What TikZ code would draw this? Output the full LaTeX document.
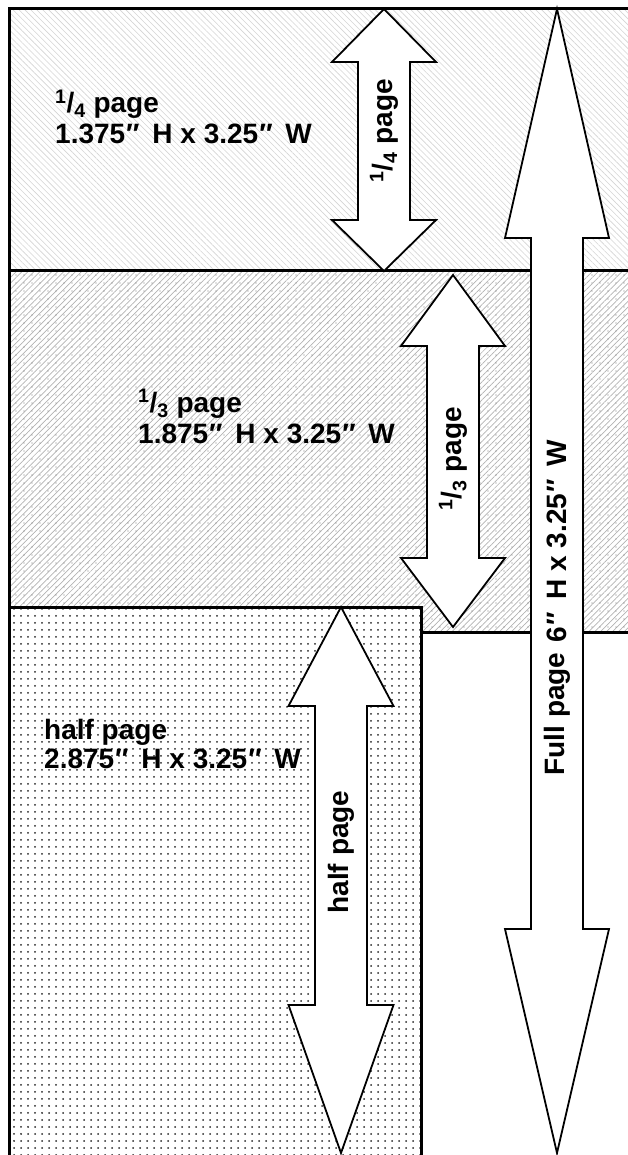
\documentclass[tikz,border=0pt]{standalone}
\usepackage{fontspec}
\setmainfont{Liberation Sans}
\usetikzlibrary{patterns.meta}
\newcommand\dblarrow[7]{% cx, top, bottom, head half width, shaft half width, top head length, bottom head length
  \draw[arrowshape] (#1,#2) -- ({#1+#4},{#2+#6}) -- ({#1+#5},{#2+#6}) -- ({#1+#5},{#3-#7}) -- ({#1+#4},{#3-#7})
    -- (#1,#3) -- ({#1-#4},{#3-#7}) -- ({#1-#5},{#3-#7}) -- ({#1-#5},{#2+#6}) -- ({#1-#4},{#2+#6}) -- cycle;}
\newcommand\dq{\kern1pt″\kern5pt}
\begin{document}
\begin{tikzpicture}[x=1pt,y=-1pt,
  border/.style={draw=black,line width=3pt},
  arrowshape/.style={draw=black,fill=white,line width=1.8pt,line join=miter},
  lbl/.style={font=\fontsize{28}{33}\selectfont\bfseries,inner sep=0pt,anchor=base west},
  vlbl/.style={font=\fontsize{28}{33}\selectfont\bfseries,inner sep=0pt,rotate=90},
  quarterfill/.style={pattern={Lines[angle=-45,distance=4.2pt,line width=0.6pt]},pattern color=black!17},
  thirdfill/.style={pattern={Lines[angle=45,distance=4.2pt,line width=0.7pt]},pattern color=black!30},
  thirddots/.style={pattern={Dots[distance=8pt,radius=0.6pt]},pattern color=black!50},
  halffill/.style={pattern={Dots[distance=7pt,radius=1pt]},pattern color=black!85}
]
\useasboundingbox (0,0) rectangle (628,1155);
\begin{scope}
\clip (0,0) rectangle (628,1155);
% regions
\fill[quarterfill] (9,9) rectangle (640,271);
\fill[thirdfill] (9,271) -- (640,271) -- (640,632) -- (421,632) -- (421,607) -- (9,607) -- cycle;
\fill[thirddots] (9,271) -- (640,271) -- (640,632) -- (421,632) -- (421,607) -- (9,607) -- cycle;
\fill[halffill] (9,607) rectangle (421,1170);
% borders
\coordinate (tl) at (9,9);
\coordinate (tr) at (640,9);
\coordinate (bl) at (9,1170);
\coordinate (ml) at (9,271);
\coordinate (mr) at (640,271);
\coordinate (hl) at (9,607);
\coordinate (hr) at (421,607);
\coordinate (hb) at (421,1170);
\coordinate (sl) at (421,632);
\coordinate (sr) at (640,632);
\draw[border] (tr) -- (tl) -- (bl);
\draw[border] (ml) -- (mr);
\draw[border] (hl) -- (hr) -- (hb);
\draw[border] (sl) -- (sr);
% arrows
\dblarrow{384}{9}{271}{52}{26}{53}{51}
\dblarrow{453}{275}{627}{52}{26}{71}{69}
\dblarrow{341}{607}{1153}{52.5}{26}{99}{148}
\dblarrow{557}{9}{1153}{52}{26}{229}{224}
\end{scope}
% labels
\node[lbl] (qa) at (55,113) {\textsuperscript{1}/\textsubscript{4} page};
\node[lbl] (qb) at (55,144) {1.375\dq{} H x 3.25\dq{} W};
\node[lbl] (ta) at (138,412) {\textsuperscript{1}/\textsubscript{3} page};
\node[lbl] (tb) at (138,443) {1.875\dq{} H x 3.25\dq{} W};
\node[lbl] (ha) at (44,739) {half page};
\node[lbl] (hb2) at (44,768) {2.875\dq{} H x 3.25\dq{} W};
\node[vlbl] (qv) at (384,131) {\textsuperscript{1}/\textsubscript{4} page};
\node[vlbl] (tv) at (453,459) {\textsuperscript{1}/\textsubscript{3} page};
\node[vlbl] (hv) at (341,852) {half page};
\node[vlbl] (fv1) at (557,714) {Full page};
\node[vlbl] (fv2) at (557,541) {6\dq{} H x 3.25\dq{} W};
\end{tikzpicture}
\end{document}
